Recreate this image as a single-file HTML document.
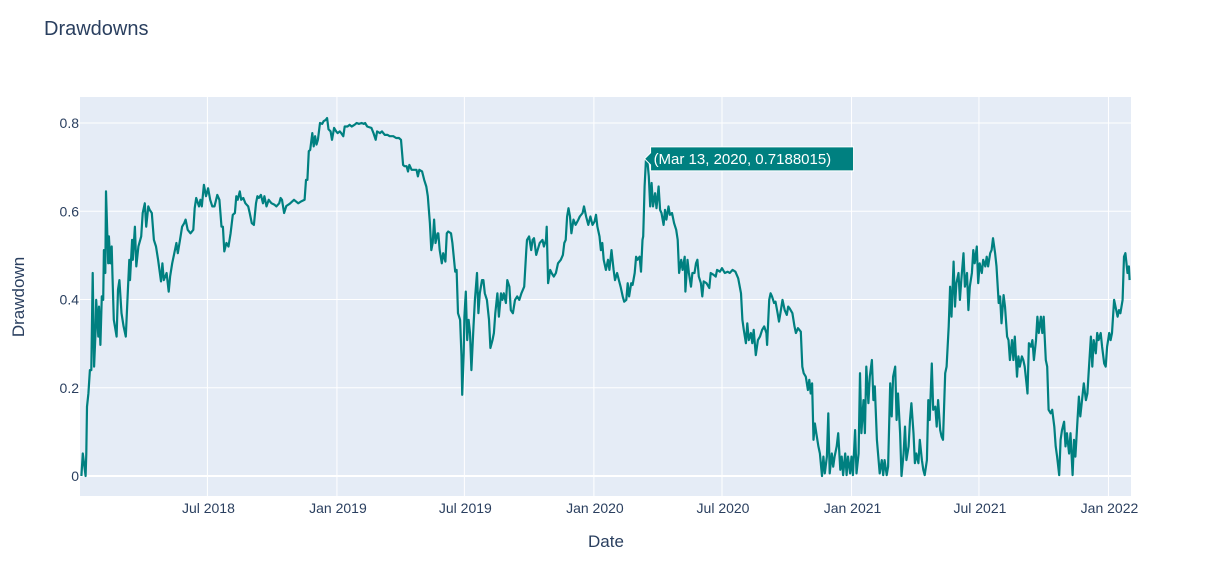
<!DOCTYPE html>
<html><head><meta charset="utf-8"><style>
html,body{margin:0;padding:0;background:#fff;}
body{width:1227px;height:573px;overflow:hidden;font-family:"Liberation Sans",sans-serif;}
svg text{font-family:"Liberation Sans",sans-serif;}
</style></head><body>
<svg id="chart" width="1227" height="573" xmlns="http://www.w3.org/2000/svg">
<text x="44" y="35" font-size="20" fill="#2a3f5f">Drawdowns</text>
<rect x="80" y="97" width="1051" height="399" fill="#E5ECF6"/>
<g id="grid"></g><g id="ticks"></g><g id="series"></g><g id="hover"></g>
<text x="606" y="547" font-size="17" fill="#2a3f5f" text-anchor="middle">Date</text>
<text x="24" y="297" font-size="17" fill="#2a3f5f" text-anchor="middle" transform="rotate(-90 24 297)">Drawdown</text>
</svg>
<script>
// day offsets from 2018-01-01
const days=[2,4,8,9,10,12,14,16,18,20,22,23,26,27,29,31,33,34,36,37,40,41,43,45,46,48,52,54,56,59,62,65,68,70,71,74,75,78,80,83,87,89,92,94,97,99,102,105,108,111,115,117,119,123,126,128,131,134,137,139,142,145,148,150,153,157,161,163,165,169,171,173,176,179,182,185,188,191,195,198,201,203,205,208,211,214,217,220,222,224,227,229,232,235,239,241,244,247,250,252,254,257,260,262,265,268,272,276,279,283,285,287,290,293,298,304,310,314,319,321,323,325,327,330,332,334,336,338,341,344,346,349,351,353,356,358,361,364,366,369,371,374,376,380,383,386,390,393,396,400,403,405,408,410,414,417,420,422,426,429,433,437,440,445,449,453,456,459,461,464,466,468,471,475,478,480,482,486,489,492,494,497,499,501,503,505,508,
509,511,514,516,519,521,523,527,529,533,535,537,540,542,543,545,546,548,550,552,554,556,559,561,564,566,568,571,573,575,578,581,583,586,588,590,593,595,598,600,602,605,607,610,612,615,618,621,624,627,631,634,635,638,641,643,645,648,650,653,657,659,662,663,665,668,670,673,676,679,683,686,688,690,692,694,696,698,701,704,708,710,714,716,719,722,725,728,731,733,735,738,740,742,744,747,750,752,755,758,760,763,766,768,771,773,776,778,780,783,785,788,790,792,795,797,799,800,802,804,806,808,810,812,814,817,819,822,824,826,829,831,833,836,838,841,844,847,849,851,854,856,859,860,863,865,868,870,873,875,877,879,882,884,886,890,894,896,900,903,905,909,912,916,920,923,927,931,935,939,941,943,946,948,950,953,955,957,960,963,966,969,972,975,976,979,981,983,986,988,991,993,995,998,1001,1004,1006,
1008,1012,1015,1017,1020,1024,1026,1028,1031,1034,1036,1038,1040,1042,1044,1046,1049,1051,1054,1056,1058,1061,1063,1065,1068,1070,1072,1075,1077,1080,1082,1084,1087,1089,1091,1094,1096,1098,1101,1103,1106,1108,1110,1113,1115,1117,1120,1122,1125,1127,1129,1132,1134,1136,1139,1141,1143,1146,1148,1151,1153,1155,1158,1160,1162,1165,1167,1170,1172,1174,1177,1179,1181,1184,1186,1188,1191,1193,1196,1198,1200,1203,1205,1207,1210,1212,1215,1217,1219,1222,1224,1226,1229,1231,1234,1236,1238,1241,1243,1245,1248,1250,1252,1255,1257,1260,1262,1264,1267,1269,1271,1274,1276,1278,1281,1283,1286,1288,1290,1293,1295,1297,1300,1302,1305,1307,1309,1312,1314,1317,1319,1321,1324,1326,1328,1331,1333,1335,1338,1340,1342,1345,1346,1348,1351,1353,1355,1358,1360,1362,1365,1367,1369,1372,1374,1376,1379,1381,1384,1386,1388,1391,1393,1395,1398,1400,1402,1405,1407,1410,1412,1414,1417,1419,1421,1424,1426,1429,1431,1433,1436,1438,1440,1443,1445,1447,1450,1452,1455,1457,1459,1462,1464,1466,1469,1471,1474,1476,1478,1481,1483,1485,1488,1490,1491];
const drawdown=[0,0.051,0,0.051,0.157,0.187,0.240,0.240,0.460,0.248,0.324,0.399,0.316,0.384,0.297,0.407,0.399,0.512,0.460,0.645,0.482,0.543,0.482,0.520,0.460,0.354,0.316,0.422,0.444,0.369,0.339,0.316,0.422,0.490,0.444,0.535,0.490,0.565,0.475,0.520,0.543,0.596,0.618,0.565,0.611,0.603,0.596,0.535,0.520,0.490,0.441,0.482,0.444,0.460,0.418,0.452,0.482,0.505,0.528,0.505,0.535,0.565,0.573,0.581,0.558,0.550,0.558,0.607,0.630,0.611,0.626,0.611,0.660,0.634,0.652,0.626,0.611,0.611,0.637,0.626,0.565,0.565,0.509,0.528,0.520,0.550,0.592,0.596,0.634,0.626,0.645,0.626,0.630,0.618,0.611,0.596,0.573,0.569,0.618,0.634,0.630,0.637,0.618,0.634,0.611,0.626,0.618,0.615,0.611,0.618,0.630,0.626,0.596,0.612,0.617,0.626,0.618,0.622,0.626,0.671,0.671,0.736,0.739,0.777,0.747,0.770,0.751,0.762,0.800,0.798,0.804,0.807,0.811,0.786,0.781,0.762,0.789,0.781,0.777,0.781,0.777,0.770,0.792,0.792,0.796,0.792,0.796,0.800,0.798,0.800,0.798,0.800,0.792,0.791,0.789,0.777,0.762,0.781,0.777,0.781,0.773,0.773,0.770,0.770,0.766,0.766,0.762,0.705,0.702,0.702,0.690,0.705,0.694,0.694,0.694,0.679,0.694,0.690,0.671,0.656,0.634,0.573,0.512,0.528,0.581,0.528,0.550,
0.550,0.512,0.482,0.505,0.486,0.550,0.554,0.550,0.528,0.463,0.467,0.369,0.354,0.271,0.184,0.278,0.361,0.418,0.308,0.354,0.324,0.240,0.339,0.399,0.460,0.369,0.414,0.444,0.444,0.414,0.399,0.354,0.290,0.308,0.324,0.369,0.414,0.361,0.414,0.399,0.414,0.392,0.444,0.429,0.376,0.369,0.399,0.407,0.399,0.414,0.429,0.512,0.535,0.543,0.512,0.535,0.539,0.501,0.512,0.528,0.535,0.520,0.535,0.565,0.437,0.467,0.460,0.452,0.460,0.482,0.490,0.501,0.528,0.535,0.588,0.607,0.588,0.550,0.581,0.569,0.581,0.588,0.596,0.611,0.588,0.569,0.588,0.569,0.577,0.592,0.565,0.543,0.512,0.528,0.490,0.467,0.490,0.467,0.512,0.467,0.444,0.460,0.441,0.429,0.407,0.395,0.399,0.437,0.407,0.437,0.433,0.460,0.497,0.490,0.497,0.463,0.535,0.543,0.656,0.7188015,0.713,0.679,0.611,0.664,0.611,0.641,0.607,0.656,0.603,0.596,0.569,0.603,0.581,0.611,0.592,0.596,0.573,0.558,0.535,0.460,0.490,0.467,0.497,0.418,0.490,0.460,0.429,0.460,0.460,0.482,0.490,0.452,0.437,0.407,0.441,0.437,0.426,0.460,0.456,0.452,0.467,0.463,0.471,0.460,0.463,0.460,0.467,0.463,0.448,0.414,0.354,0.331,0.301,0.346,0.308,0.324,0.301,0.331,0.274,0.308,0.316,0.331,0.339,0.324,0.297,0.399,0.414,0.407,0.392,0.395,0.369,0.350,0.369,0.399,0.376,0.365,0.384,
0.380,0.369,0.339,0.324,0.335,0.327,0.248,0.233,0.225,0.195,0.218,0.187,0.210,0.082,0.119,0.097,0.067,0.051,0,0.044,0.006,0.044,0.142,0.006,0.051,0.021,0.044,0.067,0.097,0.014,0.044,0.002,0.051,0.002,0.044,0.006,0.044,0.002,0.104,0.006,0.051,0.233,0.097,0.172,0.097,0.248,0.165,0.225,0.263,0.172,0.203,0.082,0.044,0.006,0.036,0.002,0.036,0.002,0.021,0.210,0.135,0.225,0.248,0.127,0.187,0.097,0,0.051,0.112,0.036,0.067,0.127,0.165,0.097,0.029,0.051,0.029,0.082,0.036,0.014,0.002,0.036,0.172,0.127,0.255,0.150,0.157,0.112,0.172,0.104,0.089,0.082,0.233,0.248,0.339,0.429,0.361,0.486,0.384,0.437,0.460,0.399,0.444,0.505,0.429,0.460,0.376,0.429,0.460,0.512,0.482,0.520,0.437,0.482,0.460,0.490,0.475,0.497,0.475,0.505,0.512,0.539,0.505,0.475,0.392,0.407,0.346,0.410,0.384,0.316,0.308,0.263,0.308,0.263,0.316,0.225,0.271,0.248,0.271,0.263,0.248,0.203,0.187,0.301,0.293,0.308,0.263,0.308,0.361,0.324,0.361,0.324,0.361,0.263,0.248,0.150,0.142,0.150,0.112,0.067,0.044,0.002,0.082,0.104,0.123,0.067,0.097,0.051,0.097,0.002,0.082,0.044,0.127,0.180,0.135,0.180,0.210,0.172,0.187,0.240,0.316,0.248,0.308,0.278,0.324,0.308,0.324,0.293,0.255,0.248,0.293,0.324,0.308,0.324,0.399,0.384,0.361,0.376,0.369,0.399,0.497,0.505,0.460,0.475,0.444];
const xTickDays=[181,365,546,730,912,1096,1277,1461];
const xTickLabels=["Jul 2018","Jan 2019","Jul 2019","Jan 2020","Jul 2020","Jan 2021","Jul 2021","Jan 2022"];
const yTickValues=[0,0.2,0.4,0.6,0.8];
const yTickLabels=["0","0.2","0.4","0.6","0.8"];
const hoverDay=802, hoverValue=0.7188015, hoverText="(Mar 13, 2020, 0.7188015)";

const NS="http://www.w3.org/2000/svg";
const X0=80,X1=1131,D0=0,D1=1493;
const xs=d=>X0+(d-D0)*(X1-X0)/(D1-D0);
const ys=v=>476-v*441.25;
function mk(tag,attrs,parent){const e=document.createElementNS(NS,tag);for(const k in attrs)e.setAttribute(k,attrs[k]);parent.appendChild(e);return e;}
const grid=document.getElementById('grid'),ticks=document.getElementById('ticks');
xTickDays.forEach((d,i)=>{
  const l=mk('line',{x1:xs(d),x2:xs(d),y1:97,y2:496,stroke:'#fff','stroke-width':1},grid);
  
  
  const t=mk('text',{x:xs(d)+1,y:513,'font-size':14,fill:'#2a3f5f','text-anchor':'middle'},ticks);
  t.textContent=xTickLabels[i];
  
  
});
yTickValues.forEach((v,i)=>{
  const l=mk('line',{x1:80,x2:1131,y1:ys(v),y2:ys(v),stroke:'#fff','stroke-width':v===0?2:1},grid);
  
  
  const t=mk('text',{x:79,y:ys(v)+5,'font-size':14,fill:'#2a3f5f','text-anchor':'end'},ticks);
  t.textContent=yTickLabels[i];
  
  
});
const pts=days.map((d,i)=>xs(d).toFixed(1)+','+ys(drawdown[i]).toFixed(1)).join(' ');
const line=mk('polyline',{points:pts,fill:'none',stroke:'#008080','stroke-width':2.2,'stroke-linejoin':'round'},document.getElementById('series'));


const hx=xs(hoverDay),hy=ys(hoverValue),hg=document.getElementById('hover');
const hb=mk('path',{d:`M${hx},${hy} L${hx+6},${hy-6} L${hx+6},${hy-12} L${hx+209},${hy-12} L${hx+209},${hy+12} L${hx+6},${hy+12} L${hx+6},${hy+6} Z`,fill:'#008080',stroke:'#fff','stroke-width':1},hg);


const ht=mk('text',{x:hx+9,y:hy+5,'font-size':15,fill:'#fff'},hg);
ht.textContent=hoverText;


</script>
</body></html>
